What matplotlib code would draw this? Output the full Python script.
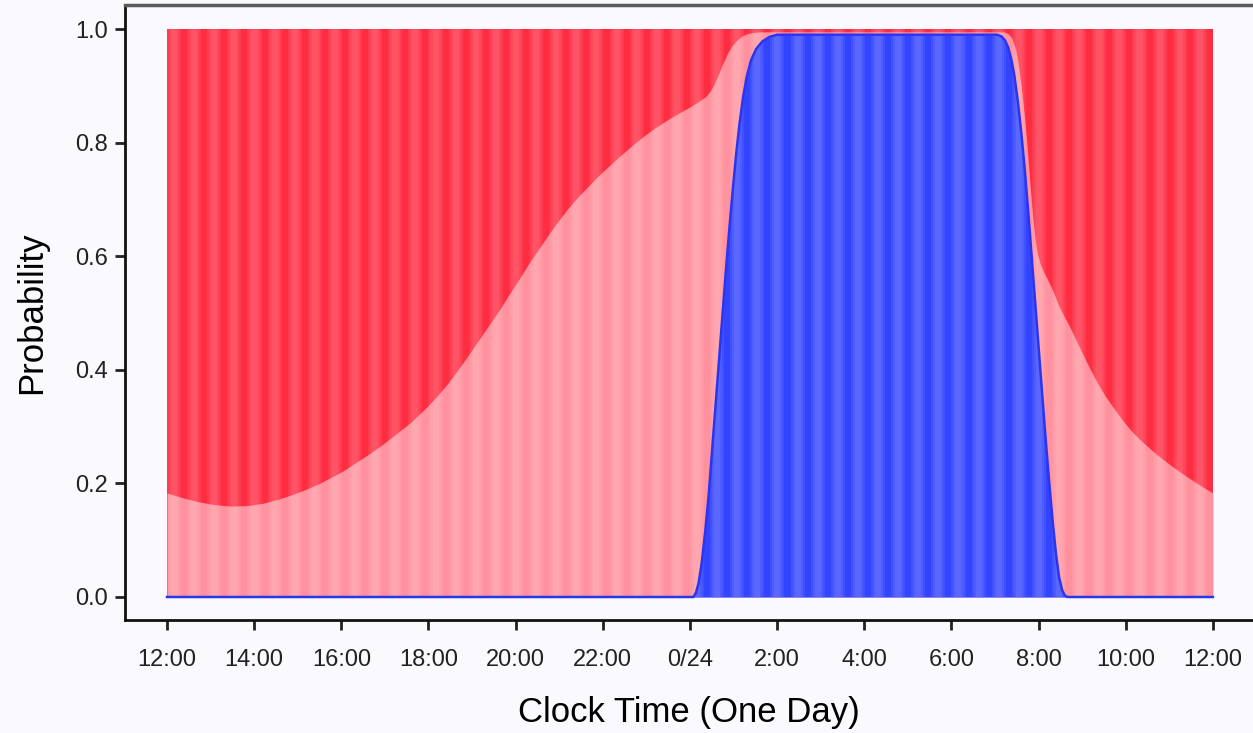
import numpy as np
import matplotlib
matplotlib.use("Agg")
import matplotlib.pyplot as plt

# hours after 12:00 noon
tick_hours = [0, 2, 4, 6, 8, 10, 12, 14, 16, 18, 20, 22, 24]
tick_labels = ["12:00", "14:00", "16:00", "18:00", "20:00", "22:00", "0/24",
               "2:00", "4:00", "6:00", "8:00", "10:00", "12:00"]

# top of the stack (all states together)
total_h = [0, 24]
total_v = [1.0, 1.0]

# upper edge of the light pink layer (pink + blue)
pink_h = [0, 0.35, 0.7, 1.05, 1.45, 1.85, 2.2, 2.55, 2.9, 3.2, 3.5, 3.8, 4.04,
          4.3, 4.6, 4.9, 5.19, 5.6, 5.97, 6.2, 6.42, 6.65, 6.88, 7.15, 7.4,
          7.65, 7.87, 8.1, 8.3, 8.55, 8.79, 9.0, 9.2, 9.4, 9.64, 9.85, 10.1,
          10.4, 10.69, 10.95, 11.2, 11.5, 11.84, 12.05, 12.23, 12.36, 12.46,
          12.55, 12.64, 12.76, 12.88, 12.98, 13.1, 13.2, 13.32, 13.45, 13.6,
          19.2, 19.3, 19.38, 19.47, 19.53, 19.6, 19.67, 19.74, 19.81, 19.87,
          19.92, 19.97, 20.03, 20.1, 20.18, 20.26, 20.35, 20.45, 20.58, 20.72,
          20.86, 21.0, 21.17, 21.34, 21.52, 21.7, 21.9, 22.1, 22.3, 22.5, 22.68,
          22.86, 23.1, 23.4, 23.7, 24.0]
pink_v = [0.183, 0.175, 0.168, 0.163, 0.160, 0.161, 0.165, 0.172, 0.181, 0.19,
          0.20, 0.212, 0.222, 0.235, 0.25, 0.266, 0.283, 0.308, 0.335, 0.354,
          0.374, 0.397, 0.422, 0.452, 0.48, 0.508, 0.535, 0.562, 0.587, 0.615,
          0.642, 0.664, 0.684, 0.702, 0.721, 0.738, 0.756, 0.777, 0.796, 0.812,
          0.826, 0.841, 0.856, 0.865, 0.874, 0.881, 0.89, 0.902, 0.918, 0.94,
          0.96, 0.972, 0.982, 0.988, 0.992, 0.994, 0.995, 0.995, 0.992, 0.985,
          0.965, 0.94, 0.9, 0.85, 0.79, 0.72, 0.665, 0.63, 0.605, 0.588, 0.575,
          0.563, 0.55, 0.535, 0.515, 0.495, 0.475, 0.452, 0.43, 0.403, 0.378,
          0.355, 0.335, 0.314, 0.295, 0.279, 0.265, 0.253, 0.242, 0.228, 0.212,
          0.197, 0.183]

# sleep probability (blue, bottom layer)
blue_h = [0, 12.08, 12.14, 12.20, 12.27, 12.35, 12.43, 12.50, 12.58, 12.66,
          12.74, 12.82, 12.90, 12.98, 13.06, 13.14, 13.22, 13.30, 13.40, 13.52,
          13.66, 13.82, 14.0, 16.0, 18.0, 19.05, 19.15, 19.23, 19.30, 19.37,
          19.44, 19.52, 19.60, 19.68, 19.76, 19.84, 19.92, 20.00, 20.08, 20.16,
          20.24, 20.32, 20.40, 20.47, 20.54, 20.60, 20.66, 24]
blue_v = [0, 0.0, 0.008, 0.025, 0.06, 0.115, 0.18, 0.25, 0.33, 0.41, 0.49,
          0.57, 0.645, 0.715, 0.78, 0.835, 0.88, 0.915, 0.945, 0.965, 0.978,
          0.986, 0.99, 0.99, 0.99, 0.99, 0.987, 0.98, 0.968, 0.948, 0.92, 0.875,
          0.82, 0.755, 0.68, 0.6, 0.52, 0.44, 0.36, 0.28, 0.205, 0.135, 0.075,
          0.035, 0.012, 0.003, 0.0, 0]

bg = "#f9f9fe"
red = "#ff2d42"
pink = "#ff929e"
blue = "#3344ff"

plt.rcParams["font.family"] = ["Liberation Sans", "DejaVu Sans"]

fig = plt.figure(figsize=(12.53, 7.33), dpi=100, facecolor=bg)
ax = fig.add_axes([125 / 1253, 113 / 733, 1128 / 1253, 615 / 733])
ax.set_facecolor(bg)

ax.fill_between(total_h, 0, total_v, color=red, lw=0, zorder=1)
ax.fill_between(pink_h, 0, pink_v, color=pink, lw=0, zorder=1.1)
ax.fill_between(blue_h, 0, blue_v, color=blue, lw=0, zorder=1.2)

# soft vertical stripes over the stack
n_stripes = 52
w = 24 / n_stripes
left = np.arange(n_stripes) * w
for off, frac in [(0.0, 0.7), (0.1, 0.5), (0.2, 0.3)]:
    ax.bar(left + w * off, 1.0, width=w * frac, align="edge", color="white",
           alpha=0.07, lw=0, zorder=2)

ax.plot(blue_h, blue_v, color="#2a35f0", lw=1.8, zorder=3,
        solid_joinstyle="round")

ax.set_xlim(-0.964, 24.92)
ax.set_ylim(-0.0405, 1.0423)

ax.set_xticks(tick_hours)
ax.set_xticklabels(tick_labels)
ax.set_yticks([0, 0.2, 0.4, 0.6, 0.8, 1.0])
ax.set_yticklabels(["0.0", "0.2", "0.4", "0.6", "0.8", "1.0"])
ax.tick_params(axis="x", direction="out", length=7, width=2, pad=14,
               labelsize=17, colors="#222222")
ax.tick_params(axis="y", direction="out", length=7, width=2, pad=5,
               labelsize=17, colors="#222222")

ax.spines["right"].set_visible(False)
for s in ("left", "bottom"):
    ax.spines[s].set_linewidth(2)
    ax.spines[s].set_color("#111111")
ax.spines["top"].set_linewidth(2.5)
ax.spines["top"].set_color("#5a5a5a")

ax.set_xlabel("Clock Time (One Day)", fontsize=25, labelpad=18)
ax.set_ylabel("Probability", fontsize=25, labelpad=20)

fig.savefig("out.png", dpi=100, facecolor=bg)
